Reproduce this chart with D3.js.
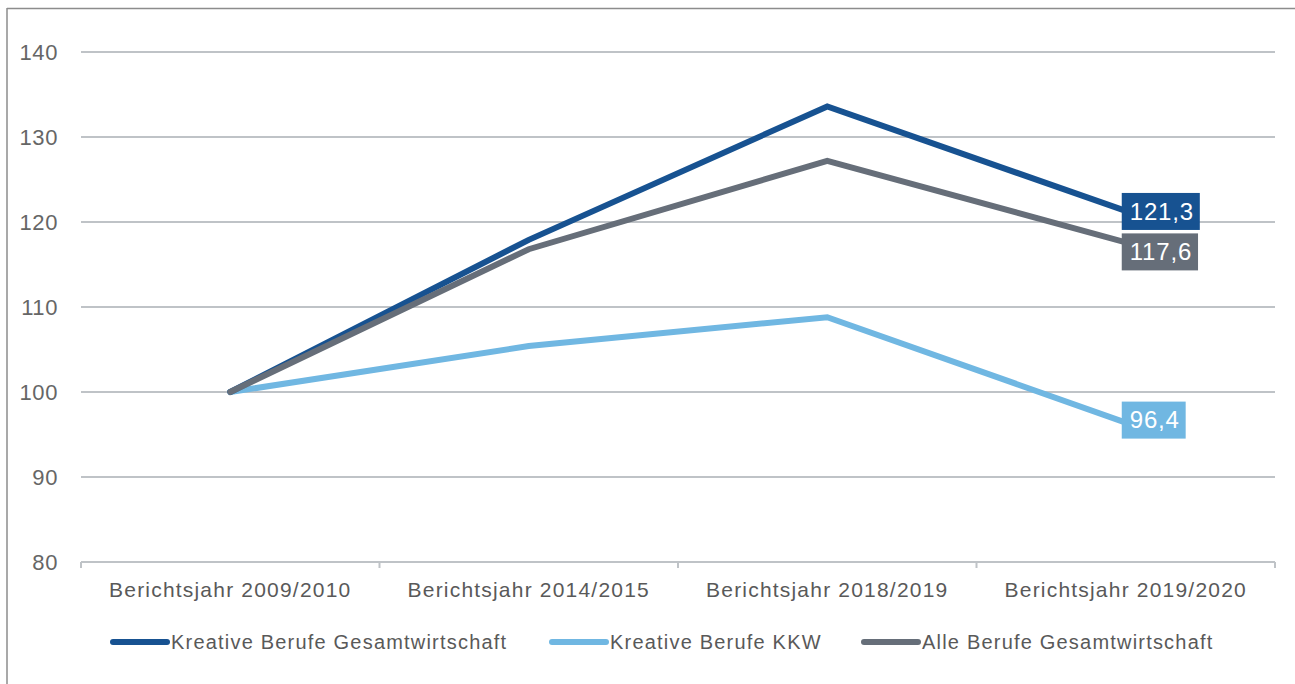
<!DOCTYPE html>
<html>
<head>
<meta charset="utf-8">
<script src="https://cdn.jsdelivr.net/npm/d3@7"></script>
<style>
    body { margin: 0; background: #fff; }
    svg text { font-family: "Liberation Sans", Arial, sans-serif; }
</style>
</head>
<body>
<svg id="chart" width="1295" height="684"></svg>
<script>
var categories = ["Berichtsjahr 2009/2010", "Berichtsjahr 2014/2015", "Berichtsjahr 2018/2019", "Berichtsjahr 2019/2020"];
var seriesNames = ["Kreative Berufe Gesamtwirtschaft", "Kreative Berufe KKW", "Alle Berufe Gesamtwirtschaft"];
var kreativGesamt = [100, 117.9, 133.6, 121.3];
var kreativKKW = [100, 105.4, 108.8, 96.4];
var alleGesamt = [100, 116.8, 127.2, 117.6];
var yTicks = [80, 90, 100, 110, 120, 130, 140];
var lastLabels = ["121,3", "96,4", "117,6"];

var colors = ["#175291", "#70b7e2", "#666e79"];
var seriesValues = [kreativGesamt, kreativKKW, alleGesamt];
// small vertical nudges so the end labels don't collide
var labelNudge = [0, -3, 9];

var svg = d3.select("svg#chart");
var margin = { top: 52, left: 81, right: 20, bottom: 122 };
var width = 1295, height = 684;

// frame (top + left edges visible in the crop)
svg.append("line").attr("x1", 7).attr("x2", 1295).attr("y1", 8.5).attr("y2", 8.5)
    .attr("stroke", "#8c8c8c").attr("stroke-width", 1.5);
svg.append("line").attr("x1", 7).attr("x2", 7).attr("y1", 8).attr("y2", 684)
    .attr("stroke", "#8c8c8c").attr("stroke-width", 1.5);

var x = d3.scaleBand()
    .domain(categories)
    .range([margin.left, width - margin.right]);
var y = d3.scaleLinear()
    .domain([80, 140])
    .range([height - margin.bottom, margin.top]);

function cx(i) {
    return x(categories[i]) + x.bandwidth() / 2;
}

// grid lines
svg.append("g").attr("class", "grid")
    .selectAll("line")
    .data(yTicks.filter(function (d) { return d > 80; }))
    .enter()
    .append("line")
    .attr("x1", margin.left)
    .attr("x2", width - margin.right)
    .attr("y1", function (d) { return y(d); })
    .attr("y2", function (d) { return y(d); })
    .attr("stroke", "#bfc3c7")
    .attr("stroke-width", 2);

// y labels
svg.append("g").attr("class", "ylabels")
    .selectAll("text")
    .data(yTicks)
    .enter()
    .append("text")
    .attr("x", 58)
    .attr("y", function (d) { return y(d); })
    .attr("dy", "0.36em")
    .attr("text-anchor", "end")
    .style("font-size", "22px")
    .style("letter-spacing", "0.6px")
    .style("fill", "#666666")
    .text(function (d) { return d; });

// x axis line + boundary ticks
var axisY = y(80);
svg.append("line")
    .attr("x1", margin.left).attr("x2", width - margin.right)
    .attr("y1", axisY).attr("y2", axisY)
    .attr("stroke", "#bfc3c7").attr("stroke-width", 2);
var edges = categories.map(function (c) { return x(c); }).concat([x.range()[1]]);
svg.append("g").selectAll("line")
    .data(edges)
    .enter()
    .append("line")
    .attr("x1", function (d) { return d; })
    .attr("x2", function (d) { return d; })
    .attr("y1", axisY)
    .attr("y2", axisY + 6)
    .attr("stroke", "#bfc3c7").attr("stroke-width", 2);

svg.append("g").attr("class", "xlabels")
    .selectAll("text")
    .data(categories)
    .enter()
    .append("text")
    .attr("x", function (d, i) { return cx(i); })
    .attr("y", axisY + 35)
    .attr("text-anchor", "middle")
    .style("font-size", "21px")
    .style("letter-spacing", "1.2px")
    .style("fill", "#595959")
    .text(function (d) { return d; });

// lines
var line = d3.line()
    .x(function (d, i) { return cx(i); })
    .y(function (d) { return y(d); });

var drawOrder = [1, 0, 2];
drawOrder.forEach(function (s) {
    svg.append("path")
        .datum(seriesValues[s])
        .attr("d", line)
        .attr("fill", "none")
        .attr("stroke", colors[s])
        .attr("stroke-width", 6)
        .attr("stroke-linejoin", "miter")
        .attr("stroke-linecap", "round");
});

// end labels
seriesValues.forEach(function (vals, s) {
    var last = vals.length - 1;
    var px = cx(last) - 4;
    var py = y(vals[last]) + labelNudge[s];
    var g = svg.append("g");
    var rect = g.append("rect").attr("fill", colors[s]);
    var t = g.append("text")
        .attr("x", px + 8)
        .attr("y", py)
        .attr("dy", "0.36em")
        .style("font-size", "24px")
        .style("letter-spacing", "0.8px")
        .style("fill", "#ffffff")
        .text(lastLabels[s]);
    var bb = t.node().getBBox();
    rect.attr("x", px)
        .attr("y", py - 18)
        .attr("width", bb.width + 14)
        .attr("height", 37);
});

// legend
var legendX = [113, 552, 864];
var legend = svg.append("g").attr("class", "legend");
seriesNames.forEach(function (name, i) {
    legend.append("line")
        .attr("x1", legendX[i]).attr("x2", legendX[i] + 54)
        .attr("y1", 642).attr("y2", 642)
        .attr("stroke", colors[i])
        .attr("stroke-width", 6)
        .attr("stroke-linecap", "round");
    legend.append("text")
        .attr("x", legendX[i] + 58)
        .attr("y", 642)
        .attr("dy", "0.36em")
        .style("font-size", "20px")
        .style("letter-spacing", "1.2px")
        .style("fill", "#595959")
        .text(name);
});
</script>
</body>
</html>
